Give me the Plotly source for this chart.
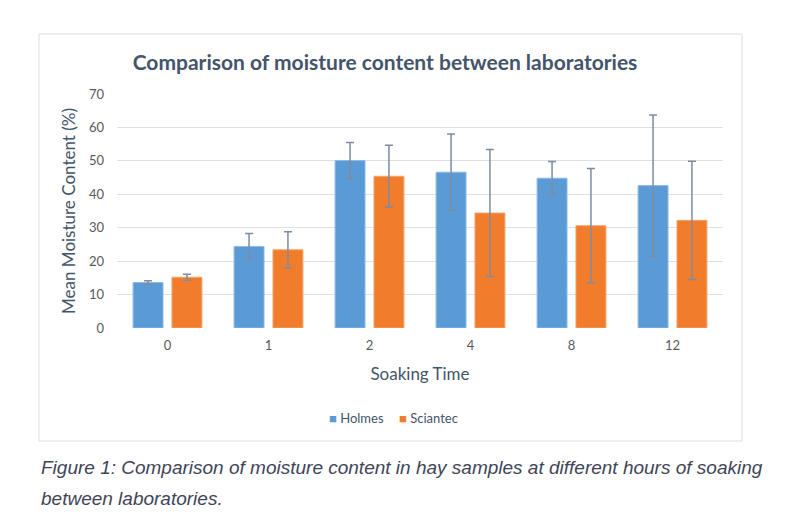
import plotly.graph_objects as go

# soaking time in hours (categories)
soak_times = ['0', '1', '2', '4', '8', '12']

holmes_mean = [13.6, 24.4, 50.1, 46.6, 44.8, 42.6]
holmes_err = [0.5, 3.9, 5.4, 11.4, 5.0, 21.1]

sciantec_mean = [15.2, 23.4, 45.4, 34.4, 30.6, 32.2]
sciantec_err = [0.9, 5.4, 9.3, 19.0, 17.1, 17.7]

series_names = ['Holmes', 'Sciantec']
series_colors = ['#5b9bd5', '#f07c2c']

err_color = '#7d8ca3'
font_main = 'Lato, Open Sans, sans-serif'
title_color = '#44546a'

fig = go.Figure()
fig.add_trace(go.Bar(x=soak_times, y=holmes_mean, name=series_names[0],
                     marker=dict(color=series_colors[0], line=dict(color='#8dbbe6', width=1)),
                     error_y=dict(type='data', array=holmes_err, color=err_color,
                                  thickness=1.5, width=4)))
fig.add_trace(go.Bar(x=soak_times, y=sciantec_mean, name=series_names[1],
                     marker=dict(color=series_colors[1], line=dict(color='#f4a46a', width=1)),
                     error_y=dict(type='data', array=sciantec_err, color=err_color,
                                  thickness=1.5, width=4)))

# plot area is 606 x 234 px; paper coords below are measured from it
def px(x):
    return (x - 117) / 606

def py(y):
    return (327 - y) / 234

# small square + name legend, like the office chart
legend_notes = []
for name, color, x0 in zip(series_names, series_colors, [327, 397]):
    legend_notes.append(dict(
        text=f'<span style="color:{color}">■</span> {name}',
        xref='paper', yref='paper', x=px(x0), y=py(417),
        xanchor='left', yanchor='middle', showarrow=False,
        font=dict(family=font_main, size=13, color=title_color)))

caption_font = dict(family='Liberation Sans, Arial', size=19, color='#3f4558')
caption_notes = [
    dict(text='<i>Figure 1: Comparison of moisture content in hay samples at different hours of soaking</i>',
         xref='paper', yref='paper', x=px(39), y=py(466),
         xanchor='left', yanchor='middle', showarrow=False, font=caption_font),
    dict(text='<i>between laboratories.</i>',
         xref='paper', yref='paper', x=px(39), y=py(497),
         xanchor='left', yanchor='middle', showarrow=False, font=caption_font),
]

fig.update_layout(
    width=800, height=529,
    margin=dict(l=109, r=85, t=86, b=209),
    paper_bgcolor='white', plot_bgcolor='white',
    font=dict(family=font_main, color='#595959', size=13),
    bargap=0.23, bargroupgap=0.23,
    showlegend=False,
    title=dict(text='<b>Comparison of moisture content between laboratories</b>',
               x=377 / 800, xanchor='center', y=1 - 55 / 529, yanchor='middle',
               font=dict(size=21, color=title_color, family=font_main)),
    xaxis=dict(type='category', showgrid=False, showline=False, ticks='',
               ticklabelstandoff=8,
               tickfont=dict(size=13, color='#595959'),
               title=dict(text='Soaking Time', font=dict(size=17, color=title_color),
                          standoff=16)),
    yaxis=dict(range=[0, 70], dtick=10, showgrid=True, gridcolor='#dde1e6', gridwidth=1,
               zeroline=False, showline=False, ticks='', ticklabelstandoff=12,
               tickfont=dict(size=13, color='#595959'),
               title=dict(text='Mean Moisture Content (%)',
                          font=dict(size=17, color=title_color), standoff=8)),
    shapes=[dict(type='rect', xref='paper', yref='paper',
                 x0=px(39), x1=px(742), y0=py(440), y1=py(33),
                 line=dict(color='#d9dde3', width=1), layer='below')],
    annotations=legend_notes + caption_notes,
)

fig.write_html("out.html")
